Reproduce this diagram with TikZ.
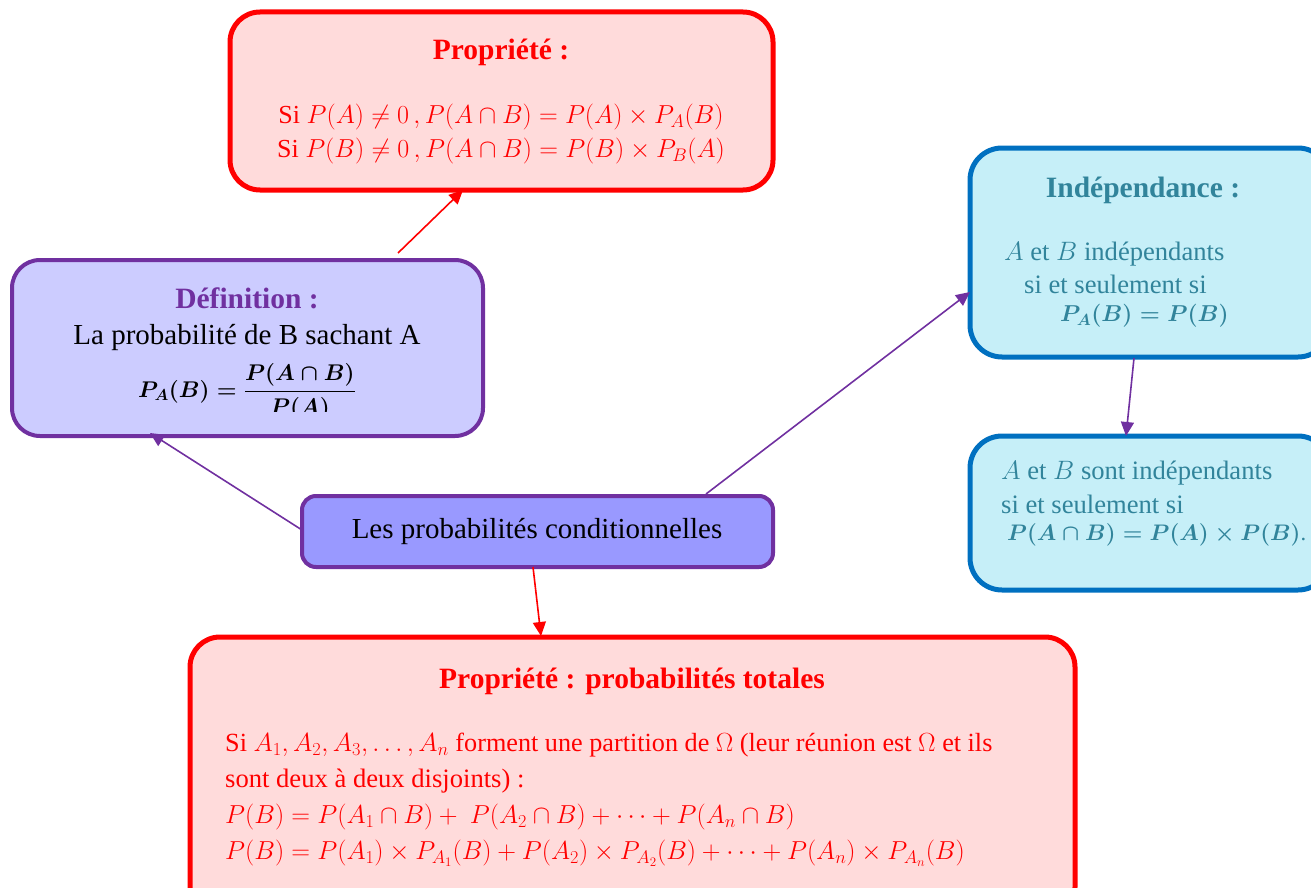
\RequirePackage{fix-cm}
\documentclass[tikz,border=0pt]{standalone}
\usepackage{fontspec}
\setmainfont{Liberation Serif}
\usepackage{amsmath}
\usetikzlibrary{arrows.meta}
\definecolor{pred}{HTML}{FF0000}
\definecolor{ppink}{HTML}{FFDBDB}
\definecolor{ppurple}{HTML}{7030A0}
\definecolor{plav}{HTML}{CCCCFF}
\definecolor{pcentral}{HTML}{9999FF}
\definecolor{pblue}{HTML}{0070C0}
\definecolor{pcyan}{HTML}{C6EFF8}
\definecolor{pteal}{HTML}{31849B}
\tikzset{
  redbox/.style={draw=pred, fill=ppink, line width=5pt, rounded corners=30pt, inner sep=0pt},
  purbox/.style={draw=ppurple, fill=plav, line width=4pt, rounded corners=28pt, inner sep=0pt},
  cenbox/.style={draw=ppurple, fill=pcentral, line width=4pt, rounded corners=14pt, inner sep=0pt},
  bluebox/.style={draw=pblue, fill=pcyan, line width=5pt, rounded corners=32pt, inner sep=0pt},
  txt/.style={inner sep=0pt, font=\fontsize{29}{34}\selectfont},
  mtxt/.style={inner sep=0pt, font=\fontsize{26}{30}\selectfont},
  ltxt/.style={inner sep=0pt, font=\fontsize{26.6}{30}\selectfont},
  ttl/.style={inner sep=0pt, font=\fontsize{29.5}{34}\selectfont\bfseries},
  redarrow/.style={draw=pred, line width=1.6pt, -{Triangle[length=14pt,width=13pt]}},
  purarrow/.style={draw=ppurple, line width=1.6pt, -{Triangle[length=14pt,width=13pt]}},
}
\begin{document}
\begin{tikzpicture}[x=1pt,y=-1pt]
\useasboundingbox (0,0) rectangle (1311,888);
\clip (0,0) rectangle (1311,888);

% boxes
\node[redbox, minimum width=543pt, minimum height=178pt] (prop) at (501.5,101) {};
\node[purbox, minimum width=471pt, minimum height=176pt] (def) at (247.5,348) {};
\node[cenbox, minimum width=471pt, minimum height=71pt] (cen) at (537.5,531.5) {};
\node[bluebox, minimum width=360pt, minimum height=209pt] (ind) at (1150,252.5) {};
\node[bluebox, minimum width=360pt, minimum height=154pt] (ind2) at (1150,513) {};
\node[redbox, minimum width=885pt, minimum height=280pt] (tot) at (632.5,777) {};

% Propriete
\node[ttl, text=pred] (propT) at (501,52) {Propriété :};
\node[mtxt, text=pred] (propL1) at (501,117) {Si $P(A)\neq 0\,,P(A\cap B)=P(A)\times P_A(B)$};
\node[mtxt, text=pred] (propL2) at (501,151) {Si $P(B)\neq 0\,,P(A\cap B)=P(B)\times P_B(A)$};

% Definition
\node[ttl, text=ppurple] (defT) at (247,298) {Définition :};
\node[txt, text=black] (defL1) at (247,338) {La probabilité de B sachant A};
\begin{scope}
\clip (14,358) rectangle (481,411);
\node[inner sep=0pt, text=black, font=\fontsize{22.7}{28}\selectfont\boldmath] (defF) at (247,392) {$P_A(B)=\dfrac{P(A\cap B)}{P(A)}$};
\end{scope}

% central
\node[txt, text=black] (cenT) at (537,531) {Les probabilités conditionnelles};

% Independance
\node[ttl, text=pteal] (indT) at (1143,190) {Indépendance :};
\node[ltxt, text=pteal, anchor=west] (indL1) at (1004,254) {$A$ et $B$ indépendants};
\node[ltxt, text=pteal, anchor=west] (indL2) at (1024,284) {si et seulement si};
\node[inner sep=0pt, text=pteal, anchor=west, font=\fontsize{23}{28}\selectfont\boldmath] (indL3) at (1060,316) {$P_A(B)=P(B)$};

\node[ltxt, text=pteal, anchor=west] (i2L1) at (1001,473) {$A$ et $B$ sont indépendants};
\node[ltxt, text=pteal, anchor=west] (i2L2) at (1001,504) {si et seulement si};
\node[inner sep=0pt, text=pteal, anchor=west, font=\fontsize{22.5}{27}\selectfont\boldmath] (i2L3) at (1007,535) {$P(A\cap B)=P(A)\times P(B)$.};

% totales
\node[ttl, text=pred] (totT) at (632,681) {Propriété : probabilités totales};
\node[inner sep=0pt, font=\fontsize{26.2}{30}\selectfont, text=pred, anchor=west] (totL1) at (225,745) {Si $A_1,A_2,A_3,\dots,A_n$ forment une partition de $\Omega$ (leur réunion est $\Omega$ et ils};
\node[ltxt, text=pred, anchor=west] (totL2) at (225,781) {sont deux à deux disjoints) :};
\node[mtxt, text=pred, anchor=west] (totL3) at (225,817) {$P(B)=P(A_1\cap B)+\ P(A_2\cap B)+\cdots+P(A_n\cap B)$};
\node[mtxt, text=pred, anchor=west] (totL4) at (225,853) {$P(B)=P(A_1)\times P_{A_1}(B)+P(A_2)\times P_{A_2}(B)+\cdots+P(A_n)\times P_{A_n}(B)$};

% connectors
\coordinate (a1s) at (398,253);
\coordinate (a1e) at (463,190);
\draw[redarrow] (a1s) -- (a1e);
\coordinate (a2s) at (302,530);
\coordinate (a2e) at (150,433);
\draw[purarrow] (a2s) -- (a2e);
\coordinate (a3s) at (706,494);
\coordinate (a3e) at (970,292);
\draw[purarrow] (a3s) -- (a3e);
\coordinate (a4s) at (1134,358);
\coordinate (a4e) at (1126,436);
\draw[purarrow] (a4s) -- (a4e);
\coordinate (a5s) at (533,567);
\coordinate (a5e) at (541,636);
\draw[redarrow] (a5s) -- (a5e);
\end{tikzpicture}
\end{document}
